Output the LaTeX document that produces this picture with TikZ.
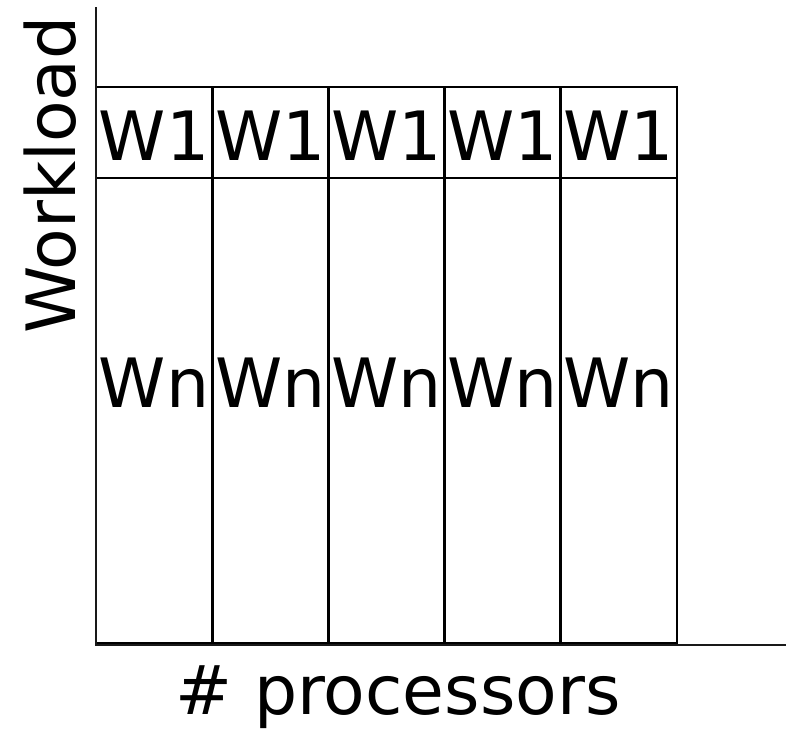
\documentclass[tikz,border=0pt]{standalone}
\usepackage{fontspec}
\setmainfont{DejaVu Sans}
\begin{document}
\begin{tikzpicture}[x=1pt,y=-1pt,
  cell/.style={draw=black, line width=1.8pt, minimum width=116.2pt, inner sep=0pt, outer sep=0pt, anchor=north west},
  lbl/.style={font=\fontsize{68}{68}\selectfont, inner sep=0pt, anchor=base},
  axis/.style={line width=1.8pt, draw=black!90}]
\useasboundingbox (0,0) rectangle (786,731);
% cells
\foreach \i in {1,...,5} {
  \node[cell, minimum height=91pt] (top\i) at ({96+(\i-1)*116.2},87) {};
  \node[cell, minimum height=465pt] (bot\i) at ({96+(\i-1)*116.2},178) {};
  \node[lbl] (wone\i) at ({96+(\i-0.5)*116.2},160) {W1};
  \node[lbl] (wn\i) at ({96+(\i-0.5)*116.2},407) {Wn};
}
% inner separators (slightly heavier)
\foreach \i in {1,...,4} {
  \draw[line width=2.8pt] (top\i.north east) -- (bot\i.south east);
}
% axes
\coordinate (ytop) at (96,7);
\coordinate (origin) at (96,645);
\coordinate (xend) at (786,645);
\draw[axis] (ytop) -- (origin) -- (xend);
% axis labels
\node[lbl, rotate=90, anchor=base] (ylab) at (75,175) {Workload};
\node[lbl] (xlab) at (398,714) {\# processors};
\end{tikzpicture}
\end{document}
